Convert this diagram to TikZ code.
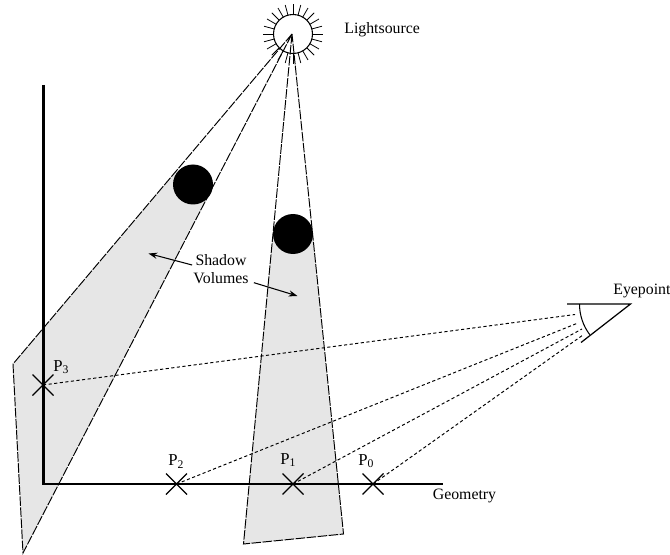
\documentclass[tikz,border=0pt]{standalone}
\usepackage{fontspec}
\setmainfont{Liberation Serif}
\usepackage{xcolor}
\usetikzlibrary{arrows.meta, calc, positioning, shapes.misc}
\definecolor{shadowgray}{RGB}{230,230,230}

\begin{document}
\begin{tikzpicture}[
    font=\fontsize{9}{10.5}\selectfont,
    ball/.style={circle, fill=black, minimum size=0.8cm, inner sep=0pt},
    hit/.style={cross out, draw=black, line width=0.7pt, minimum size=0.42cm, inner sep=0pt, outer sep=0pt},
    edgeline/.style={line width=0.55pt, dash pattern=on 5.5pt off 0.8pt},
    sightline/.style={line width=0.55pt, dash pattern=on 1.8pt off 1.4pt},
    tag/.style={anchor=west, inner sep=0pt},
    ptag/.style={anchor=west, inner sep=0pt, font=\fontsize{9.5}{11}\selectfont}
]
\useasboundingbox (0,0) rectangle (13.4,11.08);

% Shadow volumes, grey part
\fill[shadowgray] (3.53,7.67) -- (0.26,3.80) -- (0.46,0.02) -- (4.20,7.23) -- cycle;
\fill[shadowgray] (5.46,6.40) -- (4.87,0.20) -- (6.87,0.40) -- (6.25,6.40) -- cycle;

% Lightsource
\node[circle, draw, line width=0.6pt, minimum size=0.78cm, inner sep=0pt] (light) at (5.86,10.40) {};
\coordinate (apex) at (5.84,10.40);
\foreach \a in {0,15,...,345}
    \draw[line width=0.45pt] ($(light.center)+(\a:0.39)$) -- ($(light.center)+(\a:0.6)$);
\node[tag] (lighttext) at (6.88,10.48) {Lightsource};

% Volume outlines
\coordinate (a1) at (0.26,3.80);
\coordinate (a2) at (0.46,0.02);
\coordinate (b1) at (4.87,0.20);
\coordinate (b2) at (6.87,0.40);
\draw[edgeline] (apex) -- (a1) -- (a2) -- (apex);
\draw[edgeline] (apex) -- (b1) -- (b2) -- (apex);

% Occluders
\node[ball] (ball1) at (3.86,7.39) {};
\node[ball] (ball2) at (5.86,6.40) {};

% Geometry
\coordinate (top) at (0.87,9.38);
\coordinate (corner) at (0.87,1.40);
\coordinate (end) at (8.86,1.40);
\draw[line width=1.6pt, line join=miter] (top) -- (corner) -- (end);
\node[tag] (geom) at (8.65,1.17) {Geometry};

% Eye
\coordinate (eye) at (12.61,5.00);
\coordinate (lid1) at (11.34,5.00);
\coordinate (lid2) at (11.62,4.23);
\draw[line width=0.7pt] (lid1) -- (eye) -- (lid2);
\draw[line width=0.6pt] (eye) ++(180:1.02) arc (180:217:1.02);
\node[tag] (eyetext) at (12.26,5.27) {Eyepoint};

% Points
\node[hit] (p0) at (7.46,1.40) {};
\node[hit] (p1) at (5.86,1.40) {};
\node[hit] (p2) at (3.53,1.40) {};
\node[hit] (p3) at (0.86,3.38) {};
\node[ptag] (l0) at (7.16,1.86) {P\textsubscript{0}};
\node[ptag] (l1) at (5.60,1.88) {P\textsubscript{1}};
\node[ptag] (l2) at (3.36,1.85) {P\textsubscript{2}};
\node[ptag] (l3) at (1.06,3.74) {P\textsubscript{3}};

% Sight lines
\coordinate (s0) at (11.66,4.38);
\coordinate (s1) at (11.64,4.50);
\coordinate (s2) at (11.56,4.62);
\coordinate (s3) at (11.50,4.79);
\draw[sightline] (p0.center) -- (s0);
\draw[sightline] (p1.center) -- (s1);
\draw[sightline] (p2.center) -- (s2);
\draw[sightline] (p3.center) -- (s3);

% Label with arrows
\node[align=center, inner sep=0pt] (shadow) at (4.42,5.70) {Shadow\\Volumes};
\coordinate (t1) at (2.97,6.01);
\coordinate (t2) at (5.95,5.16);
\draw[-{Stealth[length=5pt,width=3.5pt]}, line width=0.6pt] ([yshift=0.08cm,xshift=-0.02cm]shadow.west) -- (t1);
\draw[-{Stealth[length=5pt,width=3.5pt]}, line width=0.6pt] ([xshift=0.1cm,yshift=0.03cm]shadow.south east) -- (t2);
\end{tikzpicture}
\end{document}
